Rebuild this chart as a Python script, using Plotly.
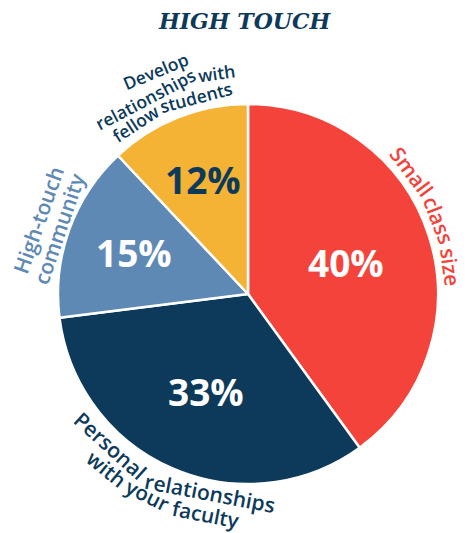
import math
import plotly.graph_objects as go

# ---- data ----
categories = ["Small class size", "Personal relationships with your faculty",
              "High-touch community", "Develop relationships with fellow students"]
values = [40, 33, 15, 12]
colors = ["#F4433A", "#0D3A5B", "#5F89B5", "#F5B335"]
text_colors = ["#FFFFFF", "#FFFFFF", "#FFFFFF", "#0D3A5B"]
label_lines = [["Small class size"],
               ["Personal relationships", "with your faculty"],
               ["High-touch", "community"],
               ["Develop", "relationships with", "fellow students"]]
title_text = "HIGH TOUCH"

# style: radial position of the percentage text as a fraction of the radius
pct_radius = [0.54, 0.56, 0.64, 0.65]

# body margin is removed in the page (post_script), so the figure fills the window
W, H = 467, 533
CX, CY, R = 248, 294, 190   # in window pixels


def to_paper(px, py):
    return px / W, 1 - py / H


fig = go.Figure()
fig.add_trace(go.Pie(
    labels=categories, values=values, sort=False, direction="clockwise", rotation=0,
    marker=dict(colors=colors, line=dict(color="#FFFFFF", width=2.5)),
    textinfo="none", hoverinfo="label+value", showlegend=False,
    domain=dict(x=[(CX - R) / W, (CX + R) / W],
                y=[1 - (CY + R) / H, 1 - (CY - R) / H]),
))

annotations = []

# percentage labels at the angular middle of each slice
total_v = float(sum(values))
cum_v = 0.0
for v, tc, f in zip(values, text_colors, pct_radius):
    th = math.radians((cum_v + v / 2) / total_v * 360)
    cum_v += v
    x, y = to_paper(CX + f * R * math.sin(th), CY - f * R * math.cos(th))
    annotations.append(dict(
        x=x, y=y, xref="paper", yref="paper", text=f"{v}%", showarrow=False,
        xanchor="center", yanchor="middle",
        font=dict(family="Open Sans", size=37, color=tc, weight="bold")))

# approximate glyph widths (em) for Open Sans semibold
CW = dict(a=.56, b=.61, c=.49, d=.61, e=.57, f=.37, g=.54, h=.62, i=.27, j=.27, k=.55,
          l=.27, m=.94, n=.62, o=.6, p=.61, q=.61, r=.41, s=.48, t=.38, u=.62, v=.53,
          w=.81, x=.54, y=.53, z=.47)
CW.update({"-": .32, "S": .55, "P": .6, "H": .73, "D": .7})


def wwidth(word, size):
    return sum(CW.get(ch, .6) for ch in word) * size


def arc_line(text, r, theta_c, size, color, mode):
    words = text.split(" ")
    widths = [wwidth(w, size) for w in words]
    sp = 0.26 * size
    total = sum(widths) + sp * (len(words) - 1)
    cum = 0.0
    for w, wd in zip(words, widths):
        off = (cum + wd / 2 - total / 2) / r
        if mode == "top":
            th = math.radians(theta_c) + off
            ang = math.degrees(th)
        else:
            th = math.radians(theta_c) - off
            ang = math.degrees(th) - 180
        # straight word on a curve: pull its middle in so its ends stay near the arc
        sag = math.sqrt(r * r + (wd / 2) ** 2) - r
        rr = r - sag / 2
        x, y = to_paper(CX + rr * math.sin(th), CY - rr * math.cos(th))
        annotations.append(dict(
            x=x, y=y, xref="paper", yref="paper", text=w,
            showarrow=False, textangle=ang, xanchor="center", yanchor="middle",
            font=dict(family="Open Sans", size=size, color=color, weight=600)))
        cum += wd + sp


# Small class size
arc_line(label_lines[0][0], 205, 66.5, 21, colors[0], "top")
# Personal relationships with your faculty
arc_line(label_lines[1][0], 207, 203.5, 21, colors[1], "bottom")
arc_line(label_lines[1][1], 225, 203.5, 20.5, colors[1], "bottom")
# High-touch community
arc_line(label_lines[2][0], 226, -70.5, 21, colors[2], "top")
arc_line(label_lines[2][1], 204, -71, 21, colors[2], "top")
# Develop relationships with fellow students
arc_line(label_lines[3][0], 243, -22.5, 17.5, colors[1], "top")
arc_line(label_lines[3][1], 224, -22.5, 17.5, colors[1], "top")
arc_line(label_lines[3][2], 205, -22.5, 17.5, colors[1], "top")

tx, ty = to_paper(245, 21)
annotations.append(dict(
    x=tx, y=ty, xref="paper", yref="paper", text=title_text,
    showarrow=False, xanchor="center", yanchor="middle",
    font=dict(family="DejaVu Serif", size=22, color="#0D3A5B", weight="bold", style="italic")))

fig.update_layout(
    width=W, height=H, margin=dict(l=0, r=0, t=0, b=0),
    paper_bgcolor="#FFFFFF", plot_bgcolor="#FFFFFF",
    annotations=annotations,
)

fig.write_html("out.html", config={"displayModeBar": False},
               post_script="document.body.style.margin='0px';")
